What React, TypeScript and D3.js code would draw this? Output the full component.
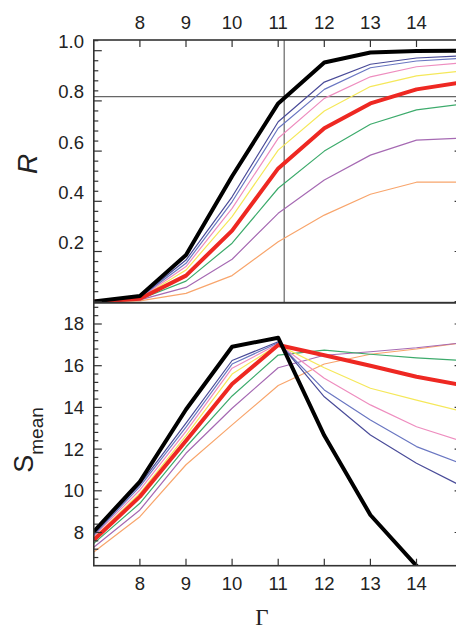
import * as d3 from 'd3';

// control parameter Γ
const gamma = [7, 8, 9, 10, 11, 12, 13, 14, 15];

// order parameter R (top panel)
const rBlack = [0.001, 0.023, 0.186, 0.5, 0.79, 0.953, 0.993, 0.999, 1.0];
const rNavy = [0.0, 0.018, 0.166, 0.418, 0.717, 0.875, 0.946, 0.971, 0.98];
const rBlue = [0.0, 0.017, 0.153, 0.398, 0.691, 0.846, 0.932, 0.959, 0.97];
const rPink = [0.0, 0.015, 0.14, 0.372, 0.651, 0.81, 0.896, 0.936, 0.952];
const rYellow = [0.0, 0.014, 0.126, 0.339, 0.604, 0.76, 0.857, 0.9, 0.919];
const rRed = [0.0, 0.012, 0.104, 0.283, 0.531, 0.691, 0.79, 0.846, 0.874];
const rGreen = [0.0, 0.01, 0.082, 0.233, 0.452, 0.6, 0.707, 0.764, 0.788];
const rPurple = [0.0, 0.007, 0.057, 0.169, 0.352, 0.485, 0.584, 0.644, 0.652];
const rOrange = [0.0, 0.003, 0.033, 0.104, 0.239, 0.345, 0.428, 0.476, 0.476];

// S_mean (bottom panel)
const sBlack = [8.05, 10.44, 13.9, 16.91, 17.34, 12.65, 8.84, 6.4, 4.5];
const sNavy = [7.93, 10.31, 13.25, 16.25, 17.15, 14.51, 12.68, 11.32, 10.2];
const sBlue = [7.88, 10.2, 13.05, 16.08, 17.1, 14.84, 13.4, 12.12, 11.28];
const sPink = [7.82, 10.04, 12.85, 15.88, 17.05, 15.4, 14.12, 13.07, 12.37];
const sYellow = [7.74, 9.88, 12.65, 15.6, 17.0, 15.9, 14.92, 14.35, 13.8];
const sRed = [7.64, 9.72, 12.4, 15.12, 16.99, 16.5, 16.0, 15.47, 15.06];
const sGreen = [7.48, 9.4, 12.1, 14.55, 16.51, 16.75, 16.55, 16.38, 16.25];
const sPurple = [7.29, 9.08, 11.8, 13.96, 15.9, 16.5, 16.67, 16.86, 17.1];
const sOrange = [7.06, 8.76, 11.25, 13.16, 15.05, 16.08, 16.55, 16.8, 17.1];

// marker lines in the top panel
const markGamma = 11.13;
const markR = 0.817;

const xTickValues = [8, 9, 10, 11, 12, 13, 14];
const rTickLabels = ['0.2', '0.4', '0.6', '0.8', '1.0'];
const sTickLabels = ['8', '10', '12', '14', '16', '18'];

// thin lines first, thick ones drawn last
const series = [
  { name: 'orange', r: rOrange, s: sOrange, color: '#f8a56c', w: 1.2 },
  { name: 'purple', r: rPurple, s: sPurple, color: '#a66ab3', w: 1.2 },
  { name: 'green', r: rGreen, s: sGreen, color: '#3dab6c', w: 1.2 },
  { name: 'yellow', r: rYellow, s: sYellow, color: '#f5e85a', w: 1.2 },
  { name: 'pink', r: rPink, s: sPink, color: '#ee8dbf', w: 1.2 },
  { name: 'blue', r: rBlue, s: sBlue, color: '#6a77c2', w: 1.2 },
  { name: 'navy', r: rNavy, s: sNavy, color: '#4a4c99', w: 1.2 },
  { name: 'red', r: rRed, s: sRed, color: '#ee2822', w: 4 },
  { name: 'black', r: rBlack, s: sBlack, color: '#000000', w: 4 },
];

const W = 456;
const H = 629;
const top1 = 40;
const bot1 = 302.7;
const bot2 = 565.7;

const x = d3.scaleLinear().domain([7, 15]).range([93.8, 462.6]);
const yR = d3.scaleLinear().domain([0, 1]).range([301.7, 50.7]);
const yS = d3.scaleLinear().domain([8, 18]).range([532.5, 324]);

const font = 'Liberation Sans, Arial, Helvetica, sans-serif';
const frame = '#333';

export default function App() {
  const lineR = (vals: number[]) =>
    d3.line<number>().x((_, i) => x(gamma[i])).y((d) => yR(d))(vals) || '';
  const lineS = (vals: number[]) =>
    d3.line<number>().x((_, i) => x(gamma[i])).y((d) => yS(d))(vals) || '';

  const rMinor = d3.range(0, 1.05, 0.04).filter((v) => yR(v) >= top1);
  const sMinor = d3.range(6.8, 19.0, 0.4).filter((v) => yS(v) >= bot1 && yS(v) <= bot2);
  const left = x(7);
  const right = x(15);

  return (
    <svg width={W} height={H} style={{ position: 'absolute', left: 0, top: 0, background: '#fff' }}>
      <defs>
        <clipPath id="clipTop">
          <rect x={left} y={top1} width={right - left} height={bot1 - top1} />
        </clipPath>
        <clipPath id="clipBot">
          <rect x={left} y={bot1} width={right - left} height={bot2 - bot1} />
        </clipPath>
      </defs>

      {/* top panel marker lines */}
      <g stroke="#666" strokeWidth={1.2}>
        <line x1={x(markGamma)} x2={x(markGamma)} y1={top1} y2={bot1} />
        <line x1={left} x2={right} y1={yR(markR)} y2={yR(markR)} />
      </g>

      <g clipPath="url(#clipTop)" fill="none" strokeLinejoin="round">
        {series.map((s) => (
          <path key={s.name} d={lineR(s.r)} stroke={s.color} strokeWidth={s.w} />
        ))}
      </g>
      <g clipPath="url(#clipBot)" fill="none" strokeLinejoin="round">
        {series.map((s) => (
          <path key={s.name} d={lineS(s.s)} stroke={s.color} strokeWidth={s.w} />
        ))}
      </g>

      {/* frames */}
      <g fill="none" stroke={frame} strokeWidth={1.6}>
        <rect x={left} y={top1} width={right - left} height={bot1 - top1} />
        <rect x={left} y={bot1} width={right - left} height={bot2 - bot1} />
      </g>

      {/* ticks, all pointing inward */}
      <g stroke={frame} strokeWidth={1.2}>
        {rMinor.map((v, i) => {
          const len = i % 5 === 0 ? 8 : 4.5;
          return (
            <g key={'r' + i}>
              <line x1={left} x2={left + len} y1={yR(v)} y2={yR(v)} />
              <line x1={right} x2={right - len} y1={yR(v)} y2={yR(v)} />
            </g>
          );
        })}
        {sMinor.map((v, i) => {
          const major = Math.abs(v / 2 - Math.round(v / 2)) < 1e-6;
          const len = major ? 8 : 4.5;
          return (
            <g key={'s' + i}>
              <line x1={left} x2={left + len} y1={yS(v)} y2={yS(v)} />
              <line x1={right} x2={right - len} y1={yS(v)} y2={yS(v)} />
            </g>
          );
        })}
        {xTickValues.map((v) => (
          <g key={'x' + v}>
            <line x1={x(v)} x2={x(v)} y1={top1} y2={top1 + 7} />
            <line x1={x(v)} x2={x(v)} y1={bot2} y2={bot2 - 7} />
          </g>
        ))}
      </g>

      {/* tick labels */}
      <g fontFamily={font} fontSize={18.5} fill="#222">
        {xTickValues.map((v) => (
          <g key={'xl' + v}>
            <text x={x(v)} y={29} textAnchor="middle">{v}</text>
            <text x={x(v)} y={590} textAnchor="middle">{v}</text>
          </g>
        ))}
        {rTickLabels.map((t) => (
          <text key={'rl' + t} x={84} y={yR(+t) - 9} dy="0.35em" textAnchor="end">{t}</text>
        ))}
        {sTickLabels.map((t) => (
          <text key={'sl' + t} x={84} y={yS(+t)} dy="0.35em" textAnchor="end">{t}</text>
        ))}
      </g>

      {/* axis titles */}
      <text
        transform="translate(37,164) rotate(-90)"
        textAnchor="middle"
        fontFamily={font}
        fontStyle="italic"
        fontSize={28}
        fill="#222"
      >
        R
      </text>
      <text
        transform="translate(33,440) rotate(-90)"
        textAnchor="middle"
        fontFamily={font}
        fontSize={27}
        fill="#222"
      >
        S
        <tspan fontSize={19} dy={10}>mean</tspan>
      </text>
      <text x={262} y={625} textAnchor="middle" fontFamily="Liberation Serif, Times New Roman, serif" fontSize={23} fill="#222">
        Γ
      </text>
    </svg>
  );
}
